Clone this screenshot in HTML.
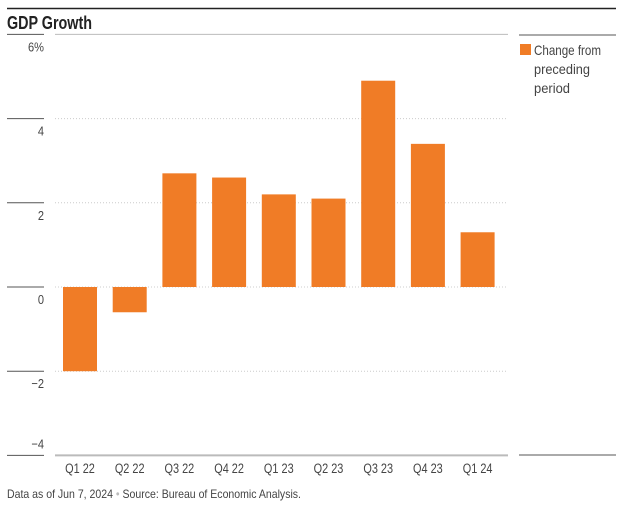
<!DOCTYPE html>
<html><head><meta charset="utf-8"><style>
body{margin:0;background:#fff;width:620px;height:505px;overflow:hidden;font-family:"Liberation Sans",sans-serif}
svg text{font-family:"Liberation Sans",sans-serif}
</style></head><body>
<svg width="620" height="505">
<line x1="7" y1="8.5" x2="616" y2="8.5" stroke="#222" stroke-width="1.5"/>
<text x="7" y="29" font-size="18" font-weight="bold" fill="#222" textLength="85" lengthAdjust="spacingAndGlyphs">GDP Growth</text>
<g id="axes"></g>
<g id="bars"></g>
<line x1="519" y1="35" x2="616" y2="35" stroke="#555"/>
<line x1="519" y1="455" x2="616" y2="455" stroke="#555"/>
<rect x="520" y="44" width="11" height="11" fill="#f07c26"/>
<text font-size="14" fill="#444"><tspan x="534" y="55" textLength="67" lengthAdjust="spacingAndGlyphs">Change from</tspan><tspan x="534" y="74" textLength="56" lengthAdjust="spacingAndGlyphs">preceding</tspan><tspan x="534" y="93" textLength="36" lengthAdjust="spacingAndGlyphs">period</tspan></text>
<text x="7" y="498" font-size="12" fill="#444" textLength="294" lengthAdjust="spacingAndGlyphs">Data as of Jun 7, 2024 <tspan fill="#bbb">•</tspan> Source: Bureau of Economic Analysis.</text>
</svg>
<script>
const categories=["Q1 22","Q2 22","Q3 22","Q4 22","Q1 23","Q2 23","Q3 23","Q4 23","Q1 24"];
const values=[-2.0,-0.6,2.7,2.6,2.2,2.1,4.9,3.4,1.3];
const ticks=[6,4,2,0,-2,-4];
const tickLabels=["6%","4","2","0","\u22122","\u22124"];
const NS="http://www.w3.org/2000/svg";
const y=v=>287-v*42.1;
const x=i=>80+i*49.7;
const axes=document.getElementById('axes'),bars=document.getElementById('bars');
function mk(tag,attrs,parent){const e=document.createElementNS(NS,tag);for(const k in attrs)e.setAttribute(k,attrs[k]);parent.appendChild(e);return e;}
ticks.forEach((t,i)=>{
  const ty=y(t);
  const tl=mk('line',{x1:7,x2:44,y1:ty,y2:ty,stroke:'#555'},axes);
  
  
  if(t===ticks[0]){const g=mk('line',{x1:55,x2:508,y1:ty,y2:ty,stroke:'#bbb'},axes);
    
    }
  else if(t===ticks[ticks.length-1]){const g=mk('line',{x1:55,x2:508,y1:ty,y2:ty,stroke:'#bbb','stroke-width':2},axes);
    
    }
  else{const g=mk('line',{x1:55,x2:508,y1:ty,y2:ty,stroke:'#ccc','stroke-dasharray':'1,2'},axes);
    
    }
  const lbl=mk('text',{x:44,y:ty+(i===ticks.length-1?-7:17),'text-anchor':'end','font-size':13,fill:'#444',transform:'translate(44 0) scale(0.85 1) translate(-44 0)'},axes);
  lbl.textContent=tickLabels[i];
  
  
});
categories.forEach((c,i)=>{
  const v=values[i];
  const r=mk('rect',{x:x(i)-17,width:34,y:Math.min(y(v),y(0)),height:Math.abs(y(v)-y(0)),fill:'#f07c26'},bars);
  
  
  const l=mk('text',{x:x(i),y:473,'text-anchor':'middle','font-size':14,fill:'#444',transform:'translate('+x(i)+' 0) scale(0.78 1) translate('+(-x(i))+' 0)'},bars);
  l.textContent=c;
  
  
});
</script>
</body></html>
